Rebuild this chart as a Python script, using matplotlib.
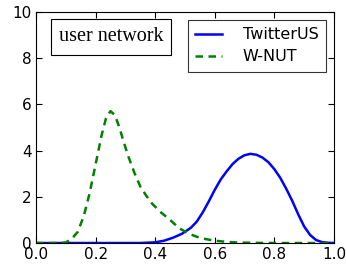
import matplotlib
matplotlib.use("Agg")
import matplotlib.pyplot as plt

# W-NUT density
wnut_x = [0.0, 0.05, 0.08, 0.10, 0.12, 0.14, 0.16, 0.18, 0.20, 0.22, 0.235,
          0.25, 0.265, 0.28, 0.295, 0.31, 0.33, 0.35, 0.37, 0.39, 0.42, 0.45,
          0.48, 0.51, 0.54, 0.57, 0.60, 0.64, 0.68, 0.72, 0.80, 1.0]
wnut_y = [0.0, 0.0, 0.0, 0.02, 0.18, 0.48, 1.15, 2.15, 3.4, 4.65, 5.4,
          5.71, 5.54, 5.0, 4.35, 3.75, 3.05, 2.45, 2.05, 1.7, 1.32, 1.0,
          0.65, 0.42, 0.27, 0.17, 0.1, 0.05, 0.02, 0.01, 0.0, 0.0]

# TwitterUS density
tw_x = [0.0, 0.35, 0.40, 0.43, 0.46, 0.49, 0.52, 0.54, 0.56, 0.58, 0.60,
        0.62, 0.64, 0.66, 0.68, 0.70, 0.72, 0.74, 0.76, 0.78, 0.80, 0.82,
        0.84, 0.86, 0.88, 0.90, 0.92, 0.94, 0.96, 0.98, 1.0]
tw_y = [0.0, 0.0, 0.03, 0.1, 0.23, 0.4, 0.66, 0.93, 1.33, 1.8, 2.3,
        2.75, 3.1, 3.42, 3.65, 3.8, 3.86, 3.82, 3.7, 3.5, 3.2, 2.82,
        2.35, 1.83, 1.25, 0.72, 0.35, 0.13, 0.04, 0.01, 0.0]

fig = plt.figure(figsize=(3.46, 2.64), dpi=100)
ax = fig.add_axes([0.104, 0.0795, 0.861, 0.875])

ax.plot(tw_x, tw_y, color='blue', lw=1.8, label='TwitterUS')
ax.plot(wnut_x, wnut_y, color='green', lw=1.8, ls='--', dashes=(3, 2.2), label='W-NUT')

ax.set_xlim(0, 1)
ax.set_ylim(0, 10)
ax.set_xticks([0.0, 0.2, 0.4, 0.6, 0.8, 1.0])
ax.set_yticks([0, 2, 4, 6, 8, 10])
ax.tick_params(direction='in', top=True, right=True, length=4, labelsize=11, pad=3)

leg = ax.legend(loc='upper right', fontsize=11.5, frameon=True, fancybox=False,
                borderaxespad=0.5, handlelength=1.7, borderpad=0.45,
                labelspacing=0.45, handletextpad=1.3)
leg.get_frame().set_edgecolor('black')
leg.get_frame().set_linewidth(0.8)

ax.text(0.252, 0.892, 'user network', transform=ax.transAxes, ha='center', va='center',
        family='Liberation Serif', fontsize=14.5,
        bbox=dict(boxstyle='square,pad=0.4', fc='white', ec='black', lw=0.8))

fig.savefig('out.png', dpi=100)
